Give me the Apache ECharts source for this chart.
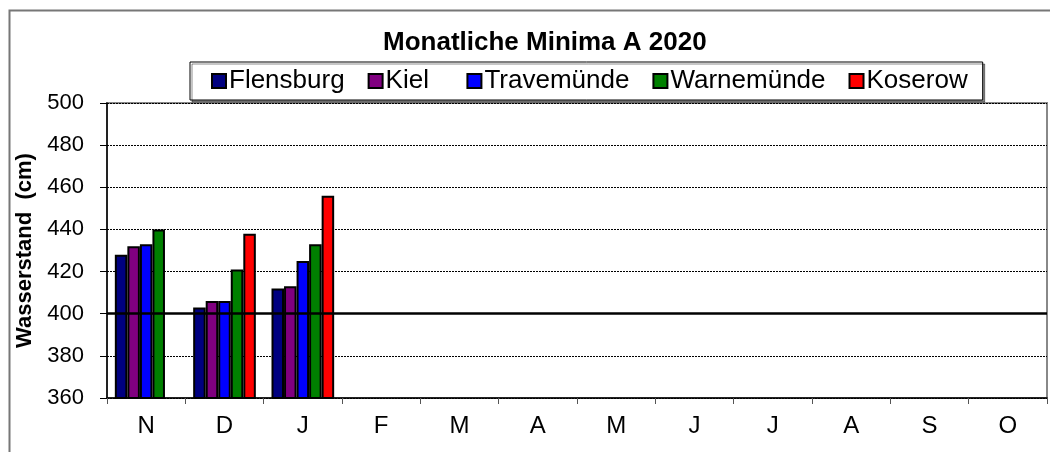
<!DOCTYPE html>
<html><head><meta charset="utf-8">
<script src="https://cdn.jsdelivr.net/npm/echarts@6/dist/echarts.min.js"></script>
<style>html,body{margin:0;padding:0;background:#fff}#c{width:1050px;height:452px}</style>
</head><body><div id="c"></div>
<script>
const categories = ['N','D','J','F','M','A','M','J','J','A','S','O'];
const flensburg = [428, 403, 412, null, null, null, null, null, null, null, null, null];
const kiel = [432, 406, 413, null, null, null, null, null, null, null, null, null];
const travemuende = [433, 406, 425, null, null, null, null, null, null, null, null, null];
const warnemuende = [440, 421, 433, null, null, null, null, null, null, null, null, null];
const koserow = [null, 438, 456, null, null, null, null, null, null, null, null, null];
const seriesNames = ['Flensburg','Kiel','Travemünde','Warnemünde','Koserow'];
const colors = ['#000080','#800080','#0000ff','#008000','#ff0000'];
const refLevel = 400;

const chart = echarts.init(document.getElementById('c'));
const FONT = 'Liberation Sans, Arial, sans-serif';
const values = [flensburg, kiel, travemuende, warnemuende, koserow];
const series = values.map((d,i)=>({
  name: seriesNames[i], type:'bar', data:d, barGap:'0%', barCategoryGap:'20%',
  itemStyle:{color:colors[i], borderColor:'#000', borderWidth:2},
  animation:false
}));
series[0].markLine = {
  silent:true, symbol:'none', animation:false,
  label:{show:false},
  lineStyle:{color:'#000', width:2.5, type:'solid'},
  data:[{yAxis:refLevel}]
};
chart.setOption({
  animation:false,
  color: colors,
  title:{text:'Monatliche Minima A 2020', left:383, top:30, padding:0,
    textStyle:{fontFamily:FONT, fontSize:26, fontWeight:'bold', color:'#000'}},
  legend:{
    data: seriesNames,
    formatter: n => n === 'Kiel' ? n + '  ' : n,
    top:62, left:190,
    icon:'rect', itemWidth:14, itemHeight:14, itemGap:23,
    padding:[6,15,6,21],
    borderColor:'#000', borderWidth:1, backgroundColor:'#fff',
    shadowColor:'rgba(0,0,0,0.45)', shadowOffsetX:2, shadowOffsetY:2, shadowBlur:0,
    itemStyle:{borderColor:'#000', borderWidth:2},
    textStyle:{fontFamily:FONT, fontSize:26, color:'#000', padding:[0,0,0,-2]}
  },
  graphic:[{type:'rect', left:7, top:8, shape:{x:0,y:0,width:1060,height:460}, silent:true,
    style:{fill:'none', stroke:'#777', lineWidth:2}, z:-10}],
  grid:{left:107, right:3, top:103, bottom:54, show:true, borderColor:'#888', borderWidth:2, backgroundColor:'transparent'},
  xAxis:{type:'category', data:categories,
    axisLine:{lineStyle:{color:'#000', width:1.5}},
    axisTick:{show:true, alignWithLabel:false, length:6, lineStyle:{color:'#555'}},
    axisLabel:{fontFamily:FONT, fontSize:24, color:'#000', margin:16},
    splitLine:{show:false}},
  yAxis:{type:'value', min:360, max:500, interval:20,
    name:'Wasserstand  (cm)', nameLocation:'middle', nameGap:67, nameRotate:90,
    nameTextStyle:{fontFamily:FONT, fontSize:22, fontWeight:'bold', color:'#000'},
    axisLine:{show:true, lineStyle:{color:'#000', width:1.5}},
    axisTick:{show:true, length:7, lineStyle:{color:'#000'}},
    axisLabel:{fontFamily:FONT, fontSize:22, color:'#000', margin:23},
    splitLine:{show:true, lineStyle:{color:'#000', width:1, type:[2,1]}}},
  series: series
});
</script></body></html>
